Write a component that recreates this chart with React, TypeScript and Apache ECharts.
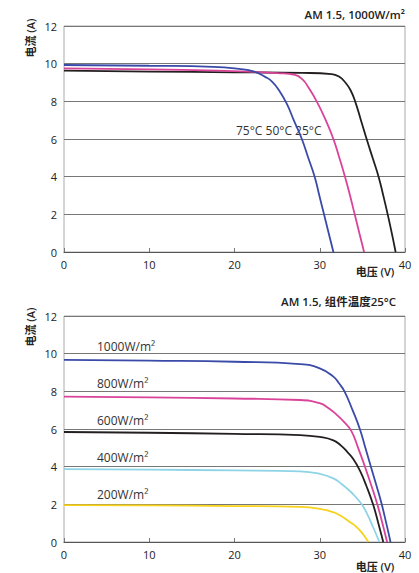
import React, { useEffect, useRef } from "react";
import * as echarts from "echarts";

const xTicks = [0, 10, 20, 30, 40];
const yTicks = [0, 2, 4, 6, 8, 10, 12];

// Top chart: temperature curves [V, I]
const temp25: number[][] = [[0, 9.63], [10, 9.58], [20, 9.54], [28, 9.51], [31.4, 9.45], [32.3, 9.3], [33.0, 9.0], [33.6, 8.6], [34.15, 8.0], [34.83, 7.0], [35.5, 6.0], [36.2, 5.0], [36.9, 4.0], [37.45, 3.0], [37.97, 2.0], [38.45, 1.0], [38.9, 0]];
const temp50: number[][] = [[0, 9.75], [10, 9.7], [18, 9.63], [22, 9.57], [25, 9.5], [27.1, 9.4], [28, 9.15], [28.66, 8.75], [29.64, 8.0], [30.7, 7.0], [31.6, 6.0], [32.3, 5.0], [32.96, 4.0], [33.55, 3.0], [34.1, 2.0], [34.65, 1.0], [35.2, 0]];
const temp75: number[][] = [[0, 9.93], [10, 9.89], [17.5, 9.83], [20.5, 9.72], [22.3, 9.58], [23.6, 9.3], [24.4, 9.05], [25.2, 8.6], [26.1, 7.9], [27.0, 6.95], [27.9, 6.0], [28.65, 5.0], [29.4, 4.0], [29.95, 3.0], [30.5, 2.0], [31.05, 1.0], [31.6, 0]];
const tempLabel = "75°C 50°C 25°C";

// Bottom chart: irradiance curves [V, I]
const irr1000: number[][] = [[0, 9.67], [10, 9.63], [20, 9.57], [27.7, 9.45], [30, 9.22], [31.6, 8.78], [32.3, 8.4], [32.9, 8.0], [33.85, 7.0], [34.7, 6.0], [35.35, 5.0], [36.0, 4.0], [36.65, 3.0], [37.27, 2.0], [37.8, 1.0], [38.3, 0]];
const irr800: number[][] = [[0, 7.72], [10, 7.68], [20, 7.62], [27.7, 7.54], [30, 7.37], [31, 7.12], [32, 6.75], [32.9, 6.35], [33.7, 5.9], [34.5, 5.0], [35.3, 4.0], [36.05, 3.0], [36.75, 2.0], [37.35, 1.0], [37.9, 0]];
const irr600: number[][] = [[0, 5.84], [10, 5.8], [20, 5.74], [27.7, 5.68], [30, 5.58], [31.6, 5.4], [32.5, 5.12], [33.2, 4.8], [33.95, 4.4], [34.7, 3.8], [35.45, 3.0], [36.25, 2.0], [36.87, 1.0], [37.45, 0]];
const irr400: number[][] = [[0, 3.87], [10, 3.84], [20, 3.8], [27.7, 3.75], [30, 3.62], [31.6, 3.38], [32.5, 3.1], [33.5, 2.72], [34.3, 2.35], [35.0, 1.95], [35.6, 1.45], [36.2, 0.85], [37.0, 0]];
const irr200: number[][] = [[0, 1.96], [10, 1.94], [20, 1.91], [27.7, 1.86], [30, 1.76], [31.6, 1.58], [32.5, 1.38], [33.4, 1.1], [34.3, 0.8], [35.1, 0.4], [35.7, 0]];
const irrLabels = ["1000W/m²", "800W/m²", "600W/m²", "400W/m²", "200W/m²"];

const titleTop = "AM 1.5, 1000W/m²";
const titleBottom = "AM 1.5, 组件温度25°C";
const yName = "电流 (A)";
const xName = "电压 (V)";

const FONT = "'Open Sans', 'Noto Sans CJK SC', sans-serif";

export default function App() {
  const ref = useRef<HTMLDivElement>(null);
  useEffect(() => {
    document.body.style.margin = "0";
    if (!ref.current) return;
    const chart = echarts.init(ref.current, undefined, { renderer: "svg" });
    const grids = [
      { left: 64, top: 26, width: 341, height: 226 },
      { left: 64, top: 316, width: 341, height: 226 },
    ];
    const mkX = (gi: number) => ({
      type: "value",
      gridIndex: gi,
      min: 0,
      max: 40,
      interval: 10,
      axisLine: { show: true, lineStyle: { color: "#555", width: 1.2 } },
      axisTick: { show: true, inside: true, length: 4, lineStyle: { color: "#777" } },
      axisLabel: { color: "#222", fontSize: 11, fontFamily: FONT, margin: 7, customValues: xTicks },
      splitLine: { show: false },
    });
    const mkY = (gi: number) => ({
      type: "value",
      gridIndex: gi,
      min: 0,
      max: 12,
      interval: 2,
      axisLine: { show: false },
      axisTick: { show: false },
      axisLabel: { color: "#222", fontSize: 11, fontFamily: FONT, margin: 7, customValues: yTicks },
      splitLine: { show: true, lineStyle: { color: "#777", width: 1 } },
    });
    const line = (data: number[][], color: string, gi: number, width = 1.8) => ({
      type: "line",
      xAxisIndex: gi,
      yAxisIndex: gi,
      data,
      smooth: 0.5,
      showSymbol: false,
      symbol: "none",
      lineStyle: { color, width },
      z: 3,
    });
    const txt = (text: string, x: number, y: number, opts: any = {}) => ({
      type: "text",
      x,
      y,
      style: {
        text,
        fill: "#222",
        fontSize: 11,
        fontFamily: FONT,
        textVerticalAlign: "middle",
        ...opts,
      },
    });
    const irrLabelY = [346, 383, 420, 457, 494];
    chart.setOption({
      animation: false,
      grid: grids.map((g) => ({ ...g, show: true, borderColor: "#aaa", borderWidth: 1, backgroundColor: "transparent" })),
      xAxis: [mkX(0), mkX(1)],
      yAxis: [mkY(0), mkY(1)],
      series: [
        line(temp25, "#231f20", 0),
        line(temp50, "#d9439a", 0),
        line(temp75, "#3a4aa8", 0),
        line(irr200, "#f6d21a", 1),
        line(irr400, "#8ed4e6", 1),
        line(irr600, "#231f20", 1),
        line(irr800, "#d9439a", 1),
        line(irr1000, "#3a4aa8", 1),
      ],
      graphic: [
        txt(titleTop, 405, 14, { textAlign: "right", fontSize: 11.5, fontWeight: 600 }),
        txt(titleBottom, 396, 301, { textAlign: "right", fontSize: 11.5, fontWeight: 600 }),
        { ...txt(yName, 30, 38, { textAlign: "center", fontWeight: 600 }), rotation: Math.PI / 2 },
        { ...txt(yName, 30, 327, { textAlign: "center", fontWeight: 600 }), rotation: Math.PI / 2 },
        txt(xName, 375, 271, { textAlign: "center", fontWeight: 600 }),
        txt(xName, 375, 566, { textAlign: "center", fontWeight: 600 }),
        txt(tempLabel, 236, 130, { textAlign: "left", fontSize: 12, fill: "#333" }),
        ...irrLabels.map((t, i) => txt(t, 97, irrLabelY[i], { textAlign: "left", fontSize: 12, fill: "#333" })),
      ],
    });
    return () => chart.dispose();
  }, []);
  return <div ref={ref} style={{ width: 419, height: 573 }} />;
}
